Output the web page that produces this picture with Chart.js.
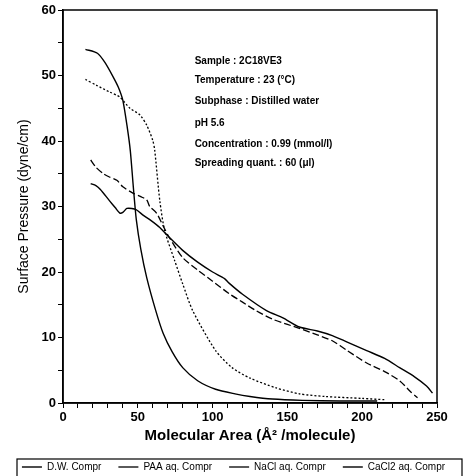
<!DOCTYPE html>
<html>
<head>
<meta charset="utf-8">
<script src="https://cdn.jsdelivr.net/npm/chart.js"></script>
<style>
html, body { margin: 0; padding: 0; background: #fff; }
</style>
</head>
<body>
<canvas id="graph" width="467" height="476"></canvas>
<script>
// isotherm data (area in A^2/molecule, pressure in dyne/cm)
var dwX = [15, 23, 28, 33.5, 37, 40, 43, 45, 47, 49, 52, 56, 62, 67, 73, 80, 90, 102, 115, 125, 140, 160, 185, 210];
var dwY = [54.0, 53.4, 52.0, 49.8, 48.2, 46.2, 42.0, 38.5, 33.0, 28.0, 23.5, 19.1, 14.1, 10.6, 7.8, 5.4, 3.4, 2.1, 1.4, 1.0, 0.6, 0.4, 0.3, 0.3];

var paaX = [18.5, 22, 27, 31, 36, 40, 47, 52, 56, 58, 62.5, 67, 71, 80, 90, 100, 111, 120, 129, 140, 150, 158, 170, 180, 190, 203, 215, 225, 232, 237];
var paaY = [37.1, 36.0, 35.0, 34.5, 34.0, 33.0, 32.0, 31.5, 31.0, 30.0, 29.0, 27.0, 25.3, 22.2, 20.3, 18.6, 16.7, 15.4, 14.1, 12.8, 12.0, 11.4, 10.4, 9.5, 8.0, 6.1, 4.8, 3.4, 1.8, 0.8];

var naclX = [15, 22.4, 31, 38, 44.7, 51.3, 56, 60, 61.3, 64.7, 68, 74.7, 80, 86.7, 102, 113, 125, 142.5, 158, 175, 200, 215];
var naclY = [49.4, 48.5, 47.5, 46.7, 45.0, 44.0, 42.4, 40.1, 38.6, 30.9, 26.3, 21.7, 18.2, 14.1, 8.0, 5.4, 3.8, 2.3, 1.4, 1.0, 0.7, 0.5];

var caclX = [18.5, 22, 25, 31, 35, 38, 40, 42.7, 46, 49, 54, 58, 64.7, 71, 80, 90, 100, 108, 111, 120, 136, 147, 158, 170, 180, 190, 203, 215, 225, 235, 243, 247];
var caclY = [33.5, 33.2, 32.6, 30.9, 29.8, 29.0, 29.1, 29.7, 29.7, 29.5, 28.6, 28.0, 26.8, 25.3, 23.3, 21.5, 20.0, 19.0, 18.3, 16.6, 14.1, 13.0, 11.6, 11.0, 10.3, 9.3, 8.0, 6.8, 5.4, 4.0, 2.6, 1.5];

var seriesNames = ["D.W. Compr", "PAA aq. Compr", "NaCl aq. Compr", "CaCl2 aq. Compr"];

var noteLines = [
	"Sample : 2C18VE3",
	"Temperature : 23 (\u00B0C)",
	"Subphase : Distilled water",
	"pH 5.6",
	"Concentration : 0.99 (mmol/l)",
	"Spreading quant. : 60 (\u03BCl)"
];

function pts(xs, ys) {
	return xs.map(function (x, i) { return { x: x, y: ys[i] }; });
}

var frame = {
	id: "frame",
	afterDraw: function (chart) {
		var c = chart.ctx, a = chart.chartArea;
		c.save();
		c.strokeStyle = "#000";
		c.lineWidth = 1.5;
		c.strokeRect(a.left, a.top, a.right - a.left, a.bottom - a.top);

		// notes inside the plot
		var sx = chart.scales.x, sy = chart.scales.y;
		var noteY = [52.1, 49.2, 46.1, 42.7, 39.5, 36.6];
		c.fillStyle = "#000";
		c.font = "bold 10px 'Liberation Sans', Arial, sans-serif";
		c.textBaseline = "middle";
		noteLines.forEach(function (t, i) {
			c.fillText(t, sx.getPixelForValue(88), sy.getPixelForValue(noteY[i]));
		});

		// box round the legend
		var lg = chart.legend;
		c.lineWidth = 1.2;
		c.strokeRect(17, lg.top + 14, 445, 20);
		c.restore();
	}
};

var ctx = document.getElementById("graph");
var graph = new Chart(ctx, {
	type: "scatter",
	data: {
		datasets: [{
			label: seriesNames[0],
			data: pts(dwX, dwY),
			borderColor: "#000",
			borderWidth: 1.4,
		}, {
			label: seriesNames[1],
			data: pts(paaX, paaY),
			borderColor: "#000",
			borderWidth: 1.3,
			borderDash: [7, 3],
		}, {
			label: seriesNames[2],
			data: pts(naclX, naclY),
			borderColor: "#000",
			borderWidth: 1.3,
			borderDash: [2, 2],
		}, {
			label: seriesNames[3],
			data: pts(caclX, caclY),
			borderColor: "#000",
			borderWidth: 1.4,
		}]
	},
	options: {
		responsive: false,
		animation: false,
		showLine: true,
		elements: {
			point: { radius: 0, hoverRadius: 0 },
			line: { tension: 0.25, fill: false, borderColor: "#000" }
		},
		layout: { padding: { left: 0, right: 0, top: 10, bottom: -6 } },
		plugins: {
			tooltip: { enabled: false },
			legend: {
				position: "bottom",
				labels: {
					usePointStyle: true,
					pointStyle: "line",
					pointStyleWidth: 20,
					boxHeight: 8,
					padding: 17,
					color: "#000",
					font: { family: "'Liberation Sans', Arial, sans-serif", size: 10 }
				}
			}
		},
		scales: {
			x: {
				type: "linear",
				min: 0,
				max: 250,
				afterFit: function (s) { s.height = 42; },
				ticks: {
					stepSize: 10,
					autoSkip: false,
					maxRotation: 0,
					color: "#000",
					padding: 2,
					font: { family: "'Liberation Sans', Arial, sans-serif", size: 13, weight: "bold" },
					callback: function (v) { return v % 50 === 0 ? v : ""; }
				},
				grid: { drawOnChartArea: false, tickLength: 5, tickColor: "#000" },
				border: { color: "#000", width: 1.5 },
				title: {
					display: true,
					text: "Molecular Area (\u00C5\u00B2 /molecule)",
					color: "#000",
					padding: { top: 0, bottom: 0 },
					font: { family: "'Liberation Sans', Arial, sans-serif", size: 15, weight: "bold" }
				}
			},
			y: {
				min: 0,
				max: 60,
				afterFit: function (s) { s.width = 63; },
				ticks: {
					stepSize: 5,
					autoSkip: false,
					color: "#000",
					padding: 2,
					font: { family: "'Liberation Sans', Arial, sans-serif", size: 13, weight: "bold" },
					callback: function (v) { return v % 10 === 0 ? v : ""; }
				},
				grid: { drawOnChartArea: false, tickLength: 5, tickColor: "#000" },
				border: { color: "#000", width: 1.5 },
				title: {
					display: true,
					text: "Surface Pressure (dyne/cm)",
					color: "#000",
					padding: { top: 16, bottom: 0 },
					font: { family: "'Liberation Sans', Arial, sans-serif", size: 14 }
				}
			},
			// empty right-hand axis, only keeps the plot clear of the right edge
			yRight: {
				position: "right",
				min: 0,
				max: 60,
				afterFit: function (s) { s.width = 30; },
				ticks: { display: false },
				grid: { display: false },
				border: { display: false }
			}
		}
	},
	plugins: [frame]
});
</script>
</body>
</html>
